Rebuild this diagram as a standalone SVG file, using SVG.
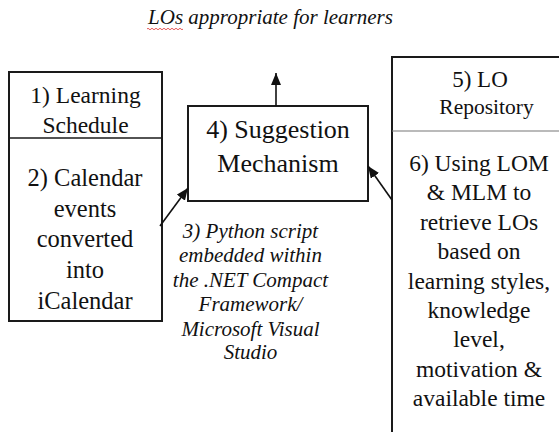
<svg xmlns="http://www.w3.org/2000/svg" width="559" height="432" viewBox="0 0 559 432">
<style>
  .box { fill: #ffffff; stroke: #1a1a1a; stroke-width: 2; }
  .div { stroke: #1a1a1a; stroke-width: 1.5; }
  .divg { stroke: #777777; stroke-width: 1.2; }
  .t { font-family: 'Liberation Serif', 'Times New Roman', serif; fill: #111111; text-anchor: middle; }
  .it { font-family: 'Liberation Serif', 'Times New Roman', serif; font-style: italic; fill: #111111; text-anchor: middle; }
  .conn { stroke: #111111; stroke-width: 1.6; fill: none; marker-end: url(#ah); }
</style>
<defs>
  <marker id="ah" viewBox="0 0 12 10" refX="12" refY="5" markerWidth="12" markerHeight="10" markerUnits="userSpaceOnUse" orient="auto">
    <path d="M0,0 L12,5 L0,10 z" fill="#111111"/>
  </marker>
</defs>
<rect width="559" height="432" fill="#ffffff"/>

<g id="title">
  <text class="it" x="270.5" y="24" font-size="21">LOs appropriate for learners</text>
  <path d="M147,29 q1,-1.5 2,0 t2,0 t2,0 t2,0 t2,0 t2,0 t2,0 t2,0 t2,0 t2,0 t2,0 t2,0 t2,0 t2,0 t2,0 t2,0 t2,0 t2,0" fill="none" stroke="#e03030" stroke-width="0.8"/>
</g>

<g id="node-schedule">
  <rect class="box" x="9" y="72" width="153" height="249"/>
  <line class="div" x1="9" y1="138" x2="162" y2="138"/>
  <text class="t" font-size="23.5" x="85.5" y="103">1) Learning</text>
  <text class="t" font-size="23.5" x="85.5" y="133">Schedule</text>
  <text class="t" font-size="24.5" x="85" y="186">2) Calendar</text>
  <text class="t" font-size="24.5" x="85" y="217">events</text>
  <text class="t" font-size="24.5" x="85" y="247">converted</text>
  <text class="t" font-size="24.5" x="85" y="278">into</text>
  <text class="t" font-size="24.5" x="85" y="309">iCalendar</text>
</g>

<g id="node-suggestion">
  <rect class="box" x="188" y="106" width="180" height="95"/>
  <text class="t" font-size="26" x="278" y="138">4) Suggestion</text>
  <text class="t" font-size="26" x="278" y="172">Mechanism</text>
</g>

<g id="node-repository">
  <rect class="box" x="392" y="57" width="200" height="400"/>
  <line class="divg" x1="392" y1="131" x2="559" y2="131"/>
  <text class="t" font-size="23" x="480" y="87">5) LO</text>
  <text class="t" font-size="21.5" x="486.5" y="114">Repository</text>
  <text class="t" font-size="23.5" x="479" y="171">6) Using LOM</text>
  <text class="t" font-size="23.5" x="479" y="200.4">&amp; MLM to</text>
  <text class="t" font-size="23.5" x="479" y="229.8">retrieve LOs</text>
  <text class="t" font-size="23.5" x="479" y="259.2">based on</text>
  <text class="t" font-size="23.5" x="479" y="288.6">learning styles,</text>
  <text class="t" font-size="23.5" x="479" y="318">knowledge</text>
  <text class="t" font-size="23.5" x="479" y="347.4">level,</text>
  <text class="t" font-size="23.5" x="479" y="376.8">motivation &amp;</text>
  <text class="t" font-size="23.5" x="479" y="406.2">available time</text>
</g>

<g id="label-python">
  <text class="it" font-size="21" x="250.5" y="238">3) Python script</text>
  <text class="it" font-size="21" x="250.5" y="262">embedded within</text>
  <text class="it" font-size="21" x="250.5" y="287">the .NET Compact</text>
  <text class="it" font-size="21" x="250.5" y="311">Framework/</text>
  <text class="it" font-size="21" x="250.5" y="336">Microsoft Visual</text>
  <text class="it" font-size="21" x="250.5" y="359">Studio</text>
</g>

<g id="connectors">
  <line class="conn" x1="276" y1="106" x2="276" y2="73"/>
  <line class="conn" x1="160" y1="226" x2="188" y2="188"/>
  <line class="conn" x1="392" y1="200" x2="368" y2="166"/>
</g>
</svg>
